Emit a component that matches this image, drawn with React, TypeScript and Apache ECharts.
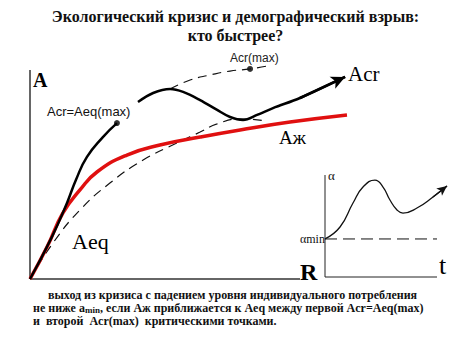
import React, { useEffect, useRef } from "react";
import * as echarts from "echarts";

// Main diagram: R (x) vs A (y), in arbitrary units (axes drawn 0..10)
const axisR: number[][] = [[0, 0], [10, 0]];
const axisA: number[][] = [[0, 0], [0, 10]];
const acrRise: number[][] = [
  [0, 0], [0.81, 2.01], [1.37, 3.64], [1.7, 4.74], [2.11, 5.84], [2.7, 6.79], [3.22, 7.46],
];
const acrWave: number[][] = [
  [4.0, 8.47], [4.56, 8.9], [5.19, 9.09], [5.67, 8.95], [6.3, 8.56], [6.93, 8.09],
  [7.41, 7.75], [7.89, 7.61], [8.41, 7.85], [9.0, 8.18], [10.0, 8.66], [11.67, 9.67],
];
const acrMaxEnvelope: number[][] = [
  [5.19, 9.09], [5.93, 9.52], [6.67, 9.76], [7.41, 9.95], [8.15, 10.05], [8.78, 10.19],
];
const aeqCurve: number[][] = [
  [0, 0], [0.85, 1.72], [1.85, 3.3], [2.96, 4.59], [4.19, 5.69], [5.44, 6.51],
  [6.3, 7.03], [6.93, 7.42], [7.78, 7.66], [8.78, 7.56],
];
const azhCurve: number[][] = [
  [0, 0], [0.63, 1.53], [1.22, 3.16], [1.85, 4.26], [2.48, 5.12], [3.59, 5.93],
  [4.81, 6.41], [6.3, 6.79], [7.78, 7.13], [9.63, 7.51], [11.74, 7.85],
];
const criticalPoints: number[][] = [
  [3.22, 7.46], [8.15, 10.05],
];

// Inset: alpha vs t (axes drawn 0..10)
const axisT: number[][] = [[0, 0], [10, 0]];
const axisAlpha: number[][] = [[0, 0], [0, 10]];
const alphaCurve: number[][] = [
  [0, 3.73], [1.34, 4.9], [2.5, 7.25], [3.39, 8.82], [4.46, 9.5], [5.18, 8.82],
  [5.8, 7.55], [6.43, 6.57], [6.96, 6.27], [8.21, 6.76], [9.64, 7.84], [10.89, 8.92],
];
const alphaMinLine: number[][] = [[0, 3.73], [10, 3.73]];

const titleLines: string[] = ["Экологический кризис и демографический взрыв:", "кто быстрее?"];

const SERIF = "'Liberation Serif', 'Times New Roman', serif";
const SANS = "'Liberation Sans', Arial, sans-serif";

function arrowTo(data: number[][]) {
  const a = data[data.length - 2];
  const b = data[data.length - 1];
  return [[{ coord: a }, { coord: b }]];
}

export default function App() {
  const ref = useRef<HTMLDivElement>(null);
  useEffect(() => {
    if (!ref.current) return;
    const chart = echarts.init(ref.current, null, { renderer: "svg" });
    const hiddenAxis = (gridIndex: number, max: number) => ({
      type: "value" as const,
      gridIndex,
      min: 0,
      max,
      axisLine: { show: false },
      axisTick: { show: false },
      axisLabel: { show: false },
      splitLine: { show: false },
    });
    const plain = (xi: number, data: number[][], lineStyle: any, extra: any = {}) => ({
      type: "line", xAxisIndex: xi, yAxisIndex: xi, data, symbol: "none", clip: false, silent: true,
      lineStyle, ...extra,
    });
    const option: any = {
      animation: false,
      backgroundColor: "#fff",
      grid: [
        // main: 27 px per R unit, 20.9 px per A unit; origin at (30, 279)
        { left: 30, top: 28.2, width: 378, height: 250.8 },
        // inset: 11.2 px per t unit, 10.2 px per alpha unit; origin at (325, 277)
        { left: 325, top: 164.8, width: 134.4, height: 112.2 },
      ],
      xAxis: [hiddenAxis(0, 14), hiddenAxis(1, 12)],
      yAxis: [hiddenAxis(0, 12), hiddenAxis(1, 11)],
      series: [
        plain(0, axisR, { color: "#333", width: 1.5 }),
        plain(0, axisA, { color: "#333", width: 1.5 }),
        plain(0, aeqCurve, { color: "#111", width: 1.2, type: [9, 6] }, { smooth: true }),
        plain(0, acrMaxEnvelope, { color: "#111", width: 1.2, type: [9, 6] }, { smooth: true }),
        plain(0, azhCurve, { color: "#e01010", width: 3.5 }, { smooth: true }),
        plain(0, acrRise, { color: "#000", width: 2.5 }, { smooth: true }),
        plain(0, acrWave, { color: "#000", width: 2.5 }, {
          smooth: 0.35,
          markLine: {
            silent: true, symbol: ["none", "arrow"], symbolSize: [10, 14], label: { show: false },
            lineStyle: { color: "#000", width: 2.5, type: "solid" }, data: arrowTo(acrWave),
          },
        }),
        {
          type: "scatter", xAxisIndex: 0, yAxisIndex: 0, data: criticalPoints, symbol: "circle", symbolSize: 6,
          itemStyle: { color: "#000" }, clip: false, silent: true,
        },
        plain(1, axisT, { color: "#222", width: 1 }),
        plain(1, axisAlpha, { color: "#222", width: 1 }),
        plain(1, alphaMinLine, { color: "#111", width: 1, type: [12, 6] }),
        plain(1, alphaCurve, { color: "#111", width: 1.3 }, {
          smooth: true,
          markLine: {
            silent: true, symbol: ["none", "arrow"], symbolSize: [7, 10], label: { show: false },
            lineStyle: { color: "#111", width: 1.3, type: "solid" }, data: arrowTo(alphaCurve),
          },
        }),
      ],
      graphic: [
        { type: "text", left: "center", top: 8, style: { text: titleLines[0], font: `bold 16px ${SERIF}`, fill: "#111" } },
        { type: "text", left: "center", top: 27, style: { text: titleLines[1], font: `bold 16px ${SERIF}`, fill: "#111" } },
        { type: "text", left: 230, top: 52, style: { text: "Acr(max)", font: `12px ${SANS}`, fill: "#222" } },
        { type: "text", left: 33, top: 70, style: { text: "A", font: `bold 20px ${SERIF}`, fill: "#000" } },
        { type: "text", left: 47, top: 105, style: { text: "Acr=Aeq(max)", font: `13px ${SANS}`, fill: "#111" } },
        { type: "text", left: 348, top: 63, style: { text: "Acr", font: `21px ${SERIF}`, fill: "#000" } },
        { type: "text", left: 279, top: 128, style: { text: "Аж", font: `19px ${SERIF}`, fill: "#000" } },
        { type: "text", left: 72, top: 230, style: { text: "Aeq", font: `22px ${SERIF}`, fill: "#000" } },
        { type: "text", left: 300, top: 260, style: { text: "R", font: `bold 24px ${SERIF}`, fill: "#000" } },
        { type: "text", left: 328, top: 169, style: { text: "α", font: `13px ${SERIF}`, fill: "#111" } },
        { type: "text", left: 300, top: 233, style: { text: "αmin", font: `12px ${SERIF}`, fill: "#111" } },
        { type: "text", left: 439, top: 252, style: { text: "t", font: `26px ${SERIF}`, fill: "#000" } },
        {
          type: "text", left: 48, top: 289,
          style: { text: "выход из кризиса с падением уровня индивидуального потребления", font: `bold 12px ${SERIF}`, lineHeight: 12, fill: "#111" },
        },
        {
          type: "text", left: 33, top: 302,
          style: {
            text: "не ниже a{sub|min}, если Аж приближается к Aeq между первой Acr=Aeq(max)",
            font: `bold 12px ${SERIF}`, lineHeight: 12, fill: "#111",
            rich: { sub: { font: `bold 9px ${SERIF}`, fill: "#111", lineHeight: 12, verticalAlign: "bottom" } },
          },
        },
        {
          type: "text", left: 33, top: 315,
          style: { text: "и  второй  Acr(max)  критическими точками.", font: `bold 12px ${SERIF}`, lineHeight: 12, fill: "#111" },
        },
      ],
    };
    chart.setOption(option);
    return () => chart.dispose();
  }, []);
  return <div ref={ref} style={{ position: "fixed", left: 0, top: 0, width: 471, height: 355 }} />;
}
